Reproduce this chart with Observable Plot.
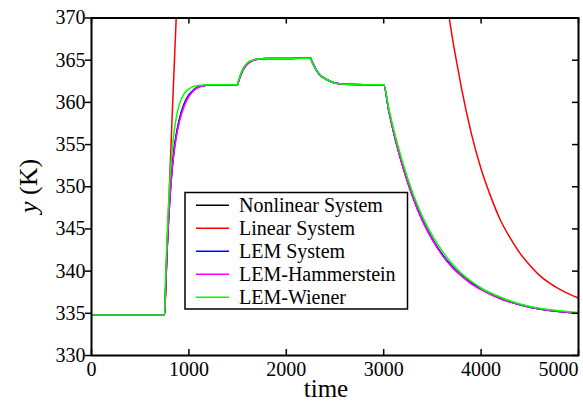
<!DOCTYPE html>
<html><head><meta charset="utf-8">
<script src="https://cdn.jsdelivr.net/npm/d3@7"></script>
<script src="https://cdn.jsdelivr.net/npm/@observablehq/plot@0.6"></script>
<style>body{margin:0;background:#fff;}</style>
</head><body><div id="chart"></div>
<script>
// ---- data ----
const time = [0, 750, 760, 775, 800, 825, 850, 875, 900, 950,
  1000, 1050, 1100, 1200, 1300, 1500, 1510, 1530, 1560, 1600,
  1650, 1700, 1800, 2000, 2250, 2260, 2280, 2310, 2350, 2400,
  2450, 2500, 2600, 2800, 3000, 3050, 3100, 3200, 3300, 3400,
  3500, 3600, 3700, 3800, 3900, 4000, 4200, 4400, 4600, 4800, 5000];

const nonlinear = [334.8, 334.8, 337.7, 342.2, 347.8, 351.8, 354.5, 356.4, 357.8, 359.7,
  360.8, 361.45, 361.85, 362.05, 362.1, 362.1, 362.5, 363.15, 363.95, 364.55,
  364.95, 365.1, 365.2, 365.2, 365.25, 364.95, 364.45, 363.8, 363.2, 362.8,
  362.5, 362.3, 362.15, 362.1, 362.1, 359.15, 356.55, 352.25, 348.75, 345.95,
  343.75, 341.95, 340.55, 339.45, 338.55, 337.85, 336.75, 336.0, 335.5, 335.2, 335.0];

const lem = [334.8, 334.8, 337.8, 342.4, 348.0, 352.0, 354.7, 356.5, 357.9, 359.8,
  360.9, 361.5, 361.85, 362.05, 362.1, 362.1, 362.5, 363.2, 364.0, 364.6,
  364.95, 365.1, 365.2, 365.2, 365.25, 364.95, 364.45, 363.8, 363.2, 362.8,
  362.5, 362.3, 362.15, 362.1, 362.1, 359.2, 356.6, 352.3, 348.8, 346.0,
  343.8, 342.0, 340.6, 339.5, 338.6, 337.9, 336.8, 336.0, 335.5, 335.2, 335.0];

const hammerstein = [334.8, 334.8, 337.6, 342.0, 347.6, 351.6, 354.3, 356.2, 357.6, 359.5,
  360.7, 361.4, 361.8, 362.05, 362.1, 362.1, 362.5, 363.1, 363.9, 364.5,
  364.9, 365.1, 365.2, 365.2, 365.25, 364.95, 364.45, 363.85, 363.25, 362.8,
  362.5, 362.3, 362.15, 362.1, 362.1, 359.1, 356.5, 352.2, 348.7, 345.9,
  343.7, 341.9, 340.5, 339.4, 338.5, 337.8, 336.7, 336.0, 335.5, 335.2, 335.0];

const wiener = [334.8, 334.8, 338.9, 343.9, 349.9, 354.0, 356.7, 358.5, 359.7, 361.0,
  361.6, 361.9, 362.0, 362.1, 362.1, 362.1, 362.6, 363.3, 364.1, 364.7,
  365.0, 365.15, 365.2, 365.2, 365.25, 364.9, 364.4, 363.8, 363.2, 362.8,
  362.5, 362.3, 362.15, 362.1, 362.1, 359.4, 356.9, 352.7, 349.2, 346.4,
  344.2, 342.4, 340.9, 339.7, 338.8, 338.0, 336.9, 336.1, 335.6, 335.3, 335.1];

const timeLinear = [0, 750, 775, 800, 825, 850, 875, 900, 1000, 3000,
  3500, 3600, 3650, 3700, 3750, 3800, 3900, 4000, 4100, 4200,
  4300, 4400, 4500, 4600, 4700, 4800, 4900, 5000];
const linear = [334.8, 334.8, 342.3, 350.0, 357.5, 364.5, 371.5, 378, 400, 487,
  386, 376.2, 371.9, 368.0, 364.7, 361.6, 356.3, 352.1, 348.8, 346.0,
  343.9, 342.1, 340.7, 339.5, 338.6, 337.9, 337.3, 336.8];

const seriesNames = ["Nonlinear System", "Linear System", "LEM System", "LEM-Hammerstein", "LEM-Wiener"];
const seriesColors = ["#000000", "#ff0000", "#0000ff", "#ff00ff", "#00ff00"];
const xTicks = [0, 1000, 2000, 3000, 4000, 5000];
const yTicks = [330, 335, 340, 345, 350, 355, 360, 365, 370];
const xLabel = "time";
const yLabelVar = "y";
const yLabelUnit = " (K)";

// ---- build ----
const toRows = (t, v) => t.map((d, i) => ({time: d, value: v[i]}));
const seriesData = [
  toRows(time, nonlinear),
  toRows(timeLinear, linear),
  toRows(time, lem),
  toRows(time, hammerstein),
  toRows(time, wiener)
];

const W = 583, H = 403;
const mL = 91, mR = 5, mT = 17.5, mB = 48;
const fw = W - mL - mR, fh = H - mT - mB;
const tickLen = 6;

const marks = [];
seriesData.forEach((rows, i) => {
  marks.push(Plot.line(rows, {x: "time", y: "value", stroke: seriesColors[i],
    strokeWidth: 1.5, curve: "monotone-x", clip: true}));
});
// inward ticks: bottom, top, right
marks.push(Plot.tickX(xTicks, {x: d => d, insetTop: fh - tickLen, strokeWidth: 1.5}));
marks.push(Plot.tickX(xTicks, {x: d => d, insetBottom: fh - tickLen, strokeWidth: 1.5}));
marks.push(Plot.tickY(yTicks, {y: d => d, insetLeft: fw - tickLen, strokeWidth: 1.5}));
// left axis with outward ticks
marks.push(Plot.axisY({anchor: "left", ticks: yTicks, tickSize: tickLen, tickPadding: 0,
  strokeWidth: 1.5, label: null, tickFormat: d => String(d)}));
// bottom tick labels
marks.push(Plot.axisX({anchor: "bottom", ticks: xTicks.slice(0, -1), tickSize: 0, tickPadding: 6,
  label: null, tickFormat: d => String(d)}));
marks.push(Plot.axisX({anchor: "bottom", ticks: xTicks.slice(-1), tickSize: 0, tickPadding: 6,
  label: null, textAnchor: "end", tickFormat: d => String(d)}));
marks.push(Plot.frame({strokeWidth: 2}));

const svg = Plot.plot({
  width: W, height: H,
  marginLeft: mL, marginRight: mR, marginTop: mT, marginBottom: mB,
  x: {domain: [0, 5000]},
  y: {domain: [330, 370]},
  style: {fontFamily: "'Liberation Serif', 'Times New Roman', serif", fontSize: "20px",
    background: "white", color: "black", overflow: "visible"},
  marks
});
document.getElementById("chart").appendChild(svg);

// ---- axis titles and legend ----
const s = d3.select(svg);
const ff = "'Liberation Serif', 'Times New Roman', serif";
s.append("text").attr("x", 326).attr("y", 397).attr("text-anchor", "middle")
  .attr("font-family", ff).attr("font-size", 25).attr("fill", "black").text(xLabel);
const yl = s.append("text").attr("transform", "translate(37,186) rotate(-90)")
  .attr("text-anchor", "middle").attr("font-family", ff).attr("font-size", 26).attr("fill", "black");
yl.append("tspan").attr("font-style", "italic").text(yLabelVar);
yl.append("tspan").text(yLabelUnit);

const lg = s.append("g");
lg.append("rect").attr("x", 185).attr("y", 192.5).attr("width", 222.5).attr("height", 116.5)
  .attr("fill", "white").attr("stroke", "black").attr("stroke-width", 1.5);
seriesNames.forEach((name, i) => {
  const base = 212.3 + i * 23;
  lg.append("line").attr("x1", 196).attr("x2", 229).attr("y1", base - 7).attr("y2", base - 7)
    .attr("stroke", seriesColors[i]).attr("stroke-width", 1.5);
  lg.append("text").attr("x", 239).attr("y", base).attr("text-anchor", "start")
    .attr("font-family", ff).attr("font-size", 20).attr("fill", "black").text(name);
});
</script></body></html>
